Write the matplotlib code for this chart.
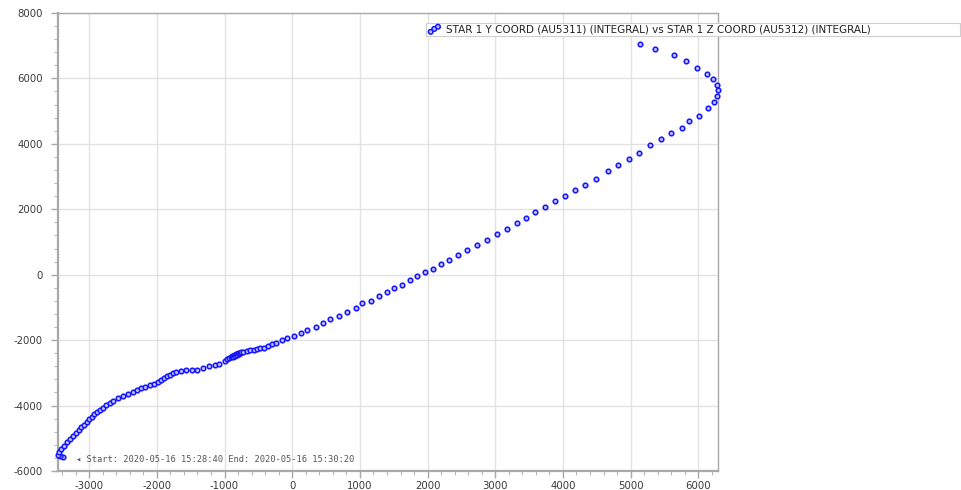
import matplotlib
matplotlib.use("Agg")
import matplotlib.pyplot as plt
from matplotlib.ticker import MultipleLocator

plt.rcParams["axes.unicode_minus"] = False

# STAR 1 Y / Z coordinates (integral), in order of time
y_coord = [
    -3387, -3431, -3461, -3452, -3416, -3378, -3334, -3289, -3245, -3195,
    -3156, -3116, -3077, -3038, -2998, -2959, -2924, -2885, -2846, -2796,
    -2752, -2698, -2644, -2574, -2501, -2427, -2359, -2294, -2230, -2171,
    -2108, -2043, -1989, -1945, -1901, -1851, -1806, -1768, -1713, -1639,
    -1566, -1481, -1403, -1315, -1226, -1148, -1078, -1000,
    -960, -931, -901, -886, -871, -857, -842, -827, -812, -798,
    -783, -768, -753, -728, -669, -620, -572, -521, -473, -424,
    -365, -300, -236, -152, -78, 22, 129, 222, 344, 462,
    557, 684, 812, 935, 1038, 1162, 1285, 1403, 1507, 1629,
    1747, 1842, 1961, 2086, 2201, 2315, 2447, 2585, 2732, 2880,
    3032, 3180, 3328, 3452, 3594, 3741, 3885, 4032, 4180, 4332,
    4490, 4660, 4815, 4977, 5130, 5292, 5446, 5598, 5756, 5868,
    6011, 6140, 6229, 6282, 6292, 6273, 6223, 6125, 5986, 5819,
    5638, 5362, 5140,
]
z_coord = [
    -5582, -5551, -5499, -5419, -5315, -5223, -5113, -5008, -4916, -4824,
    -4745, -4662, -4579, -4508, -4426, -4346, -4272, -4211, -4140, -4070,
    -3996, -3926, -3864, -3782, -3711, -3641, -3598, -3536, -3475, -3426,
    -3374, -3334, -3272, -3211, -3168, -3107, -3058, -3006, -2966, -2944,
    -2923, -2914, -2904, -2862, -2800, -2760, -2720, -2638,
    -2592, -2561, -2530, -2500, -2515, -2469, -2484, -2438, -2454, -2408,
    -2423, -2392, -2377, -2352, -2331, -2309, -2291, -2270, -2248, -2230,
    -2178, -2125, -2086, -2009, -1948, -1862, -1794, -1678, -1601, -1478,
    -1349, -1267, -1135, -1003, -880, -797, -666, -531, -399, -307,
    -175, -40, 83, 175, 313, 451, 604, 758, 911, 1073,
    1248, 1411, 1586, 1748, 1911, 2076, 2239, 2401, 2576, 2751,
    2938, 3180, 3358, 3536, 3720, 3956, 4140, 4324, 4499, 4683,
    4855, 5091, 5275, 5459, 5634, 5806, 5971, 6143, 6318, 6542,
    6717, 6892, 7054,
]

series_label = "STAR 1 Y COORD (AU5311) (INTEGRAL) vs STAR 1 Z COORD (AU5312) (INTEGRAL)"
range_note = "\u25c2 Start: 2020-05-16 15:28:40 End: 2020-05-16 15:30:20"
y_limits = (-6000, 8000)

fig = plt.figure(figsize=(9.62, 4.90), dpi=100)
ax = fig.add_axes([0.0603, 0.0388, 0.6861, 0.9347])

ax.scatter(y_coord, z_coord, s=11, facecolors="#c0c0ff", edgecolors="#1414ff",
           linewidths=1.1, zorder=3, clip_on=False, label=series_label)

ax.set_xlim(min(y_coord), max(y_coord))
ax.set_ylim(*y_limits)

ax.xaxis.set_major_locator(MultipleLocator(1000))
ax.xaxis.set_minor_locator(MultipleLocator(200))
ax.yaxis.set_major_locator(MultipleLocator(2000))
ax.yaxis.set_minor_locator(MultipleLocator(400))

ax.grid(True, which="major", color="#e2e2e2", linewidth=1.0, zorder=0)
ax.set_axisbelow(True)

for side, sp in ax.spines.items():
    sp.set_color("#a8a8a8")
    sp.set_linewidth(1.0)
ax.spines["left"].set_linewidth(1.6)
ax.spines["bottom"].set_linewidth(1.6)

ax.tick_params(which="major", direction="out", length=5, width=1,
               color="#a8a8a8", labelsize=7.3, labelcolor="#3a3a3a")
ax.tick_params(which="minor", direction="out", length=3, width=0.8,
               color="#b8b8b8")
ax.tick_params(axis="x", pad=2.5)
ax.tick_params(axis="y", pad=6)

ax.text(0.027, 0.025, range_note, transform=ax.transAxes,
        fontsize=6.3, color="#555555", ha="left", va="center",
        family=["DejaVu Sans Mono", "DejaVu Sans"])

leg = fig.legend(loc="upper left",
                 bbox_to_anchor=(0.4428, 0.9245, 0.555, 0.0286),
                 mode="expand", borderaxespad=0, borderpad=0.15,
                 fontsize=7.5, frameon=True, fancybox=False,
                 edgecolor="#cfcfcf", framealpha=1,
                 scatterpoints=3, scatteryoffsets=[0.1, 0.5, 0.8],
                 handlelength=1.3, handletextpad=0.5)
leg.get_frame().set_linewidth(0.8)
for t in leg.get_texts():
    t.set_color("#222222")

fig.savefig("out.png", dpi=100)
